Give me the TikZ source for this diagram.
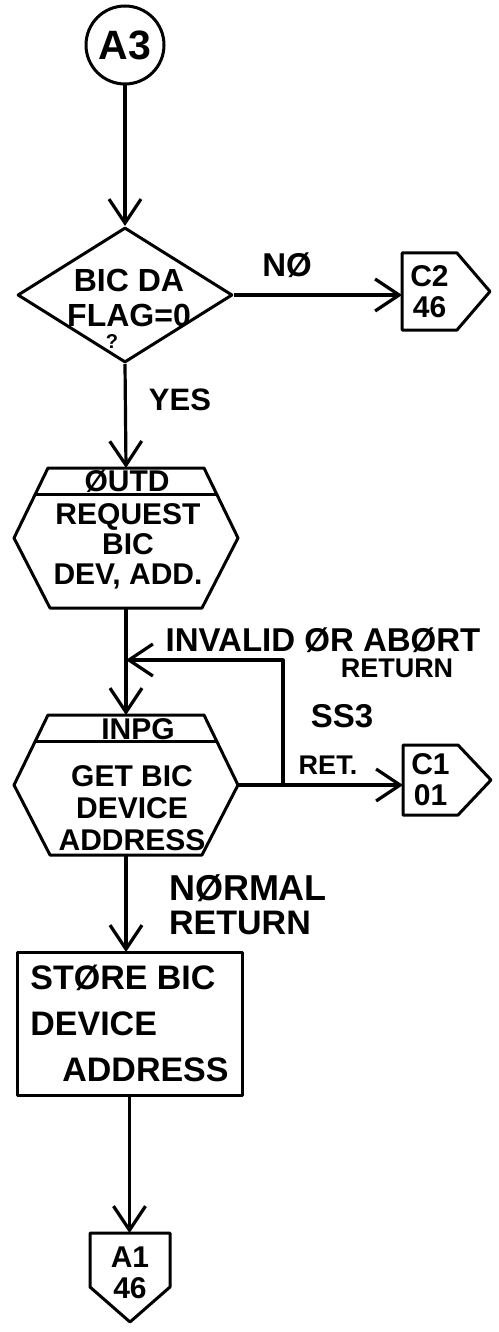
\documentclass[tikz,border=0pt]{standalone}
\usepackage{fontspec}
\setmainfont{Liberation Sans}
\usetikzlibrary{positioning,arrows.meta,shapes.geometric}

% hexagon outline with a header strip
\newcommand{\hexframe}[1]{%
  \draw[box] ([xshift=34pt]#1.north west) -- (#1.west) -- ([xshift=36pt]#1.south west)
    -- ([xshift=-36pt]#1.south east) -- (#1.east) -- ([xshift=-34pt]#1.north east) -- cycle;
  \draw[box] ([xshift=21pt,yshift=-26pt]#1.north west) -- ([xshift=-21pt,yshift=-26pt]#1.north east);}
\newcommand{\fsz}[2]{\fontsize{#1}{#2}\selectfont\bfseries}

\begin{document}
\begin{tikzpicture}[x=1pt, y=-1pt, line join=round,
    >={Straight Barb[length=24pt,width=32pt]},
    box/.style={draw, line width=3pt, inner sep=0pt, outer sep=0pt},
    flow/.style={->, line width=3.2pt},
    conn/.style={circle, draw, line width=3pt, minimum size=78pt, inner sep=0pt, font=\fsz{41}{41}},
    decision/.style={diamond, draw, line width=3pt, minimum width=215pt, minimum height=135pt, inner sep=0pt},
    hexsize/.style={inner sep=0pt, outer sep=0pt, minimum width=224pt, minimum height=140pt},
    offpage/.style={inner sep=0pt, outer sep=0pt, minimum width=55pt, minimum height=77pt, align=center, font=\fsz{30}{31}},
    txt/.style={inner sep=0pt, align=center, font=\fsz{30}{30}},
    lbl/.style={inner sep=0pt, font=\fsz{33}{33}}]

    \fill[white] (0,0) rectangle (498,1332);
    \useasboundingbox (0,0) rectangle (498,1332);

    \node[conn] (start) at (125,45) {A3};

    \node[decision] (dec) at (125,295) {};
    \node[txt, font=\fsz{32}{35}] (dect) at (129,298) {BIC DA\\FLAG=0};
    \node[txt, font=\fsz{20}{20}] (decq) at (112,342) {?};

    \node[offpage] (c2) at (429.5,291.5) {C2\\46};

    \node[hexsize] (req) at (126,538) {};
    \hexframe{req}
    \node[txt, font=\fsz{30}{30}] (reqh) at (127,481) {ØUTD};
    \node[txt] (reqt) at (128,546) {REQUEST\\BIC\\DEV, ADD.};

    \node[hexsize] (inp) at (126,785) {};
    \hexframe{inp}
    \node[txt, font=\fsz{30}{30}] (inph) at (138,729) {INPG};
    \node[txt, font=\fsz{30}{32}] (inpt) at (132,808) {GET BIC\\DEVICE\\ADDRESS};

    \node[offpage, minimum height=70pt] (c1) at (430.5,780) {C1\\01};

    \node[box, minimum width=225pt, minimum height=143pt, align=left, font=\fsz{34}{46}] (store)
        at (129.5,1023.5) {STØRE BIC\\DEVICE\\\hspace*{32pt}ADDRESS};

    \node[offpage, minimum width=80pt, minimum height=54pt] (a1) at (130,1260) {};
    \node[txt, font=\fsz{30}{31}] (a1t) at (130,1273) {A1\\46};

    % connector outlines
    \foreach \n in {c2,c1}
      \draw[box] (\n.south east) -- (\n.south west) -- (\n.north west) -- (\n.north east)
        -- ([xshift=33pt]\n.east) -- cycle;
    \draw[box] (a1.south west) -- (a1.north west) -- (a1.north east) -- (a1.south east)
      -- ([yshift=-35pt]a1.south) -- cycle;

    \coordinate (jn) at (283,785);
    \coordinate (mg) at (126,660);

    \draw[flow] (start) -- (dec);
    \draw[flow] (dec.east) -- (dec.east -| c2.west);
    \draw[flow] (dec.south) -- (req.north);
    \draw[flow] (req.south) -- (inp.north);
    \draw[flow] (inp.east) -- (inp.east -| c1.west);
    \draw[flow] (jn) |- (mg);
    \draw[flow] (inp.south) -- (inp.south |- store.north);
    \draw[flow] (store.south) -- (store.south |- a1.north);

    \node[lbl] (no) at (287,265) {NØ};
    \node[lbl, font=\fsz{31}{31}] (yes) at (180,400) {YES};
    \node[lbl] (inv) at (323,640) {INVALID ØR ABØRT};
    \node[lbl, font=\fsz{27}{27}] (ret1) at (397,668) {RETURN};
    \node[lbl] (ss3) at (342,716) {SS3};
    \node[lbl, font=\fsz{27}{27}] (ret) at (328,765) {RET.};
    \node[lbl, font=\fsz{36}{36}] (norm) at (248,888) {NØRMAL};
    \node[lbl, font=\fsz{34}{34}] (ret2) at (240,923) {RETURN};
\end{tikzpicture}
\end{document}
